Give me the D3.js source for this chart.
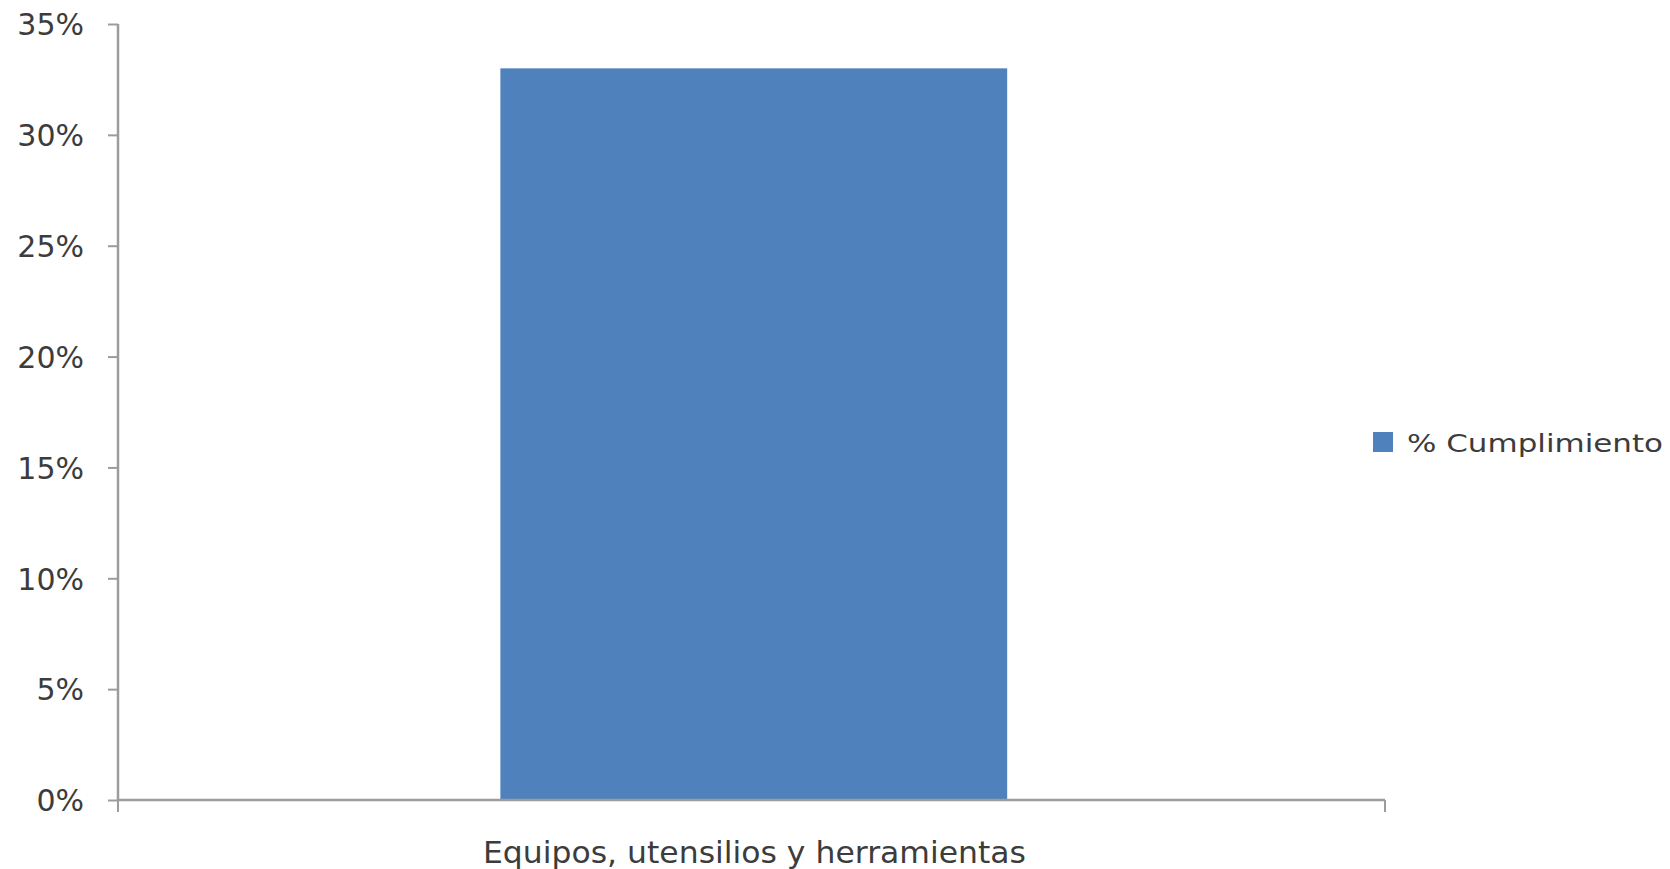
<!DOCTYPE html>
<html>
<head>
<meta charset="utf-8">
<script src="https://cdn.jsdelivr.net/npm/d3@7"></script>
<style>
html,body{margin:0;padding:0;background:#fff;}
svg{display:block;}
</style>
</head>
<body>
<svg id="chart" width="1670" height="869"></svg>
<script>
const categories = ["Equipos, utensilios y herramientas"];
const values = [0.33];
const yTicks = [0, 0.05, 0.10, 0.15, 0.20, 0.25, 0.30, 0.35];
const seriesName = "% Cumplimiento";

(function(){
const svg = d3.select("#chart");
const mLeft = 118, mRight = 1385, mTop = 24, mBottom = 800;
const axisColor = "#9c9c9c", textColor = "#3c3c3c";

const y = d3.scaleLinear().domain([0, 0.35]).range([mBottom, mTop]);
const xOuter = d3.scaleBand().domain(categories).range([mLeft, mRight]);
const xBar = d3.scaleBand().domain(categories).range([mLeft, mRight]).paddingInner(0.6).paddingOuter(0.3).align(0.503);

// bars
svg.append("g").selectAll("rect").data(values).join("rect")
  .attr("x", (d,i) => xBar(categories[i]))
  .attr("width", xBar.bandwidth())
  .attr("y", d => y(d))
  .attr("height", d => y(0) - y(d))
  .attr("fill", "#4f81bd");

// y axis
const yAxis = d3.axisLeft(y).tickValues(yTicks).tickFormat(d3.format(".0%")).tickSize(10).tickPadding(24);
const gy = svg.append("g").attr("transform", `translate(${mLeft},0)`).call(yAxis);
gy.select(".domain").attr("stroke", axisColor).attr("stroke-width", 2.5).attr("d", `M0,${mTop}V${mBottom}`);
gy.selectAll(".tick line").attr("stroke", axisColor).attr("stroke-width", 2);
gy.selectAll(".tick text").attr("fill", textColor).attr("font-family", "DejaVu Sans, sans-serif").attr("font-size", 30).attr("dy", "0.36em");

// x axis
const xAxis = d3.axisBottom(xOuter).tickSize(0).tickPadding(0).tickFormat("");
const gx = svg.append("g").attr("transform", `translate(0,${mBottom})`).call(xAxis);
gx.select(".domain").attr("stroke", axisColor).attr("stroke-width", 2.5).attr("d", `M${mLeft},0H${mRight}`);
const bounds = [xOuter.range()[0], xOuter.range()[1]];
gx.selectAll("line.bound").data(bounds).join("line").attr("class","bound")
  .attr("x1", d => d).attr("x2", d => d).attr("y1", 0).attr("y2", 12)
  .attr("stroke", axisColor).attr("stroke-width", 2);
gx.selectAll("text.cat").data(categories).join("text").attr("class","cat")
  .attr("x", d => xOuter(d) + xOuter.bandwidth()/2 + 3)
  .attr("y", 63)
  .attr("text-anchor", "middle")
  .attr("fill", textColor)
  .attr("font-family", "DejaVu Sans, sans-serif")
  .attr("font-size", 31)
  .attr("textLength", 543)
  .attr("lengthAdjust", "spacingAndGlyphs")
  .text(d => d);

// legend
const lg = svg.append("g").attr("transform", "translate(1373,432)");
lg.append("rect").attr("width", 20).attr("height", 20).attr("fill", "#4f81bd");
lg.append("text").attr("x", 34).attr("y", 20)
  .attr("fill", textColor)
  .attr("font-family", "DejaVu Sans, sans-serif")
  .attr("font-size", 25)
  .attr("textLength", 256)
  .attr("lengthAdjust", "spacingAndGlyphs")
  .text(seriesName);
})();
</script>
</body>
</html>
